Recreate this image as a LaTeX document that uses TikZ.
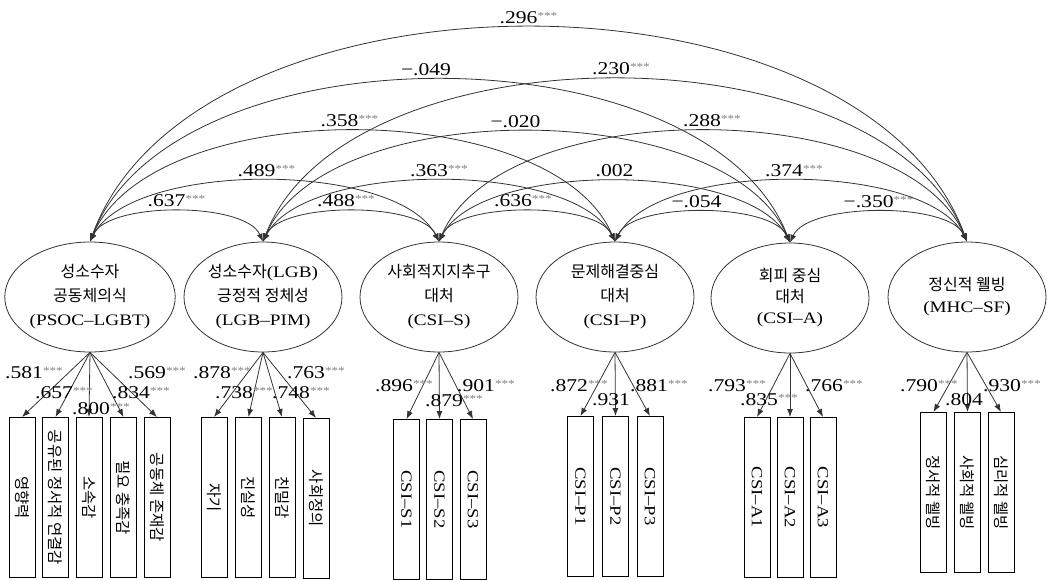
\documentclass[tikz,border=0pt]{standalone}
\usepackage{fontspec}
\setmainfont{Liberation Serif}[FakeStretch=1.2]
\newfontfamily\kr{Noto Sans CJK KR}
\usepackage{graphicx}
\usetikzlibrary{shapes.geometric,arrows.meta}
\definecolor{ln}{gray}{0.2}
\newcommand\sg{\raisebox{4pt}{\color{black!50}\fontsize{11}{11}\selectfont ***}}
\newcommand\K[1]{{\kr #1}}
\newcommand\R[1]{\rotatebox{-90}{#1}}
\begin{document}
\begin{tikzpicture}[x=1pt,y=-1pt,
  lat/.style={ellipse, draw=ln, line width=0.8pt, minimum width=158pt, minimum height=110pt,
    inner sep=0pt, align=center, font=\fontsize{16}{24}\selectfont},
  ind/.style={draw=black, line width=0.9pt, minimum width=26pt, minimum height=160pt,
    inner sep=0pt, anchor=north, font=\fontsize{15.5}{16}\selectfont},
  cov/.style={draw=ln, line width=0.8pt, {Latex[length=8pt,width=6pt]}-{Latex[length=8pt,width=6pt]}},
  ld/.style={draw=ln, line width=0.8pt, -{Latex[length=8pt,width=6pt]}},
  num/.style={font=\fontsize{18}{18}\selectfont, inner sep=0pt},
  cl/.style={num, above=4pt, pos=0.5},
  lb/.style={num, anchor=west},
]
\useasboundingbox (0,0) rectangle (1051,579);

% latent variables
\node[lat] (e1) at (90,297) {\K{성소수자}\\\K{공동체의식}\\(PSOC–LGBT)};
\node[lat] (e2) at (263,297) {\K{성소수자}(LGB)\\\K{긍정적 정체성}\\(LGB–PIM)};
\node[lat] (e3) at (439,297) {\K{사회적지지추구}\\\K{대처}\\(CSI–S)};
\node[lat] (e4) at (615,297) {\K{문제해결중심}\\\K{대처}\\(CSI–P)};
\node[lat, font=\fontsize{16}{21}\selectfont] (e5) at (790,298) {\K{회피 중심}\\\K{대처}\\(CSI–A)};
\node[lat, font=\fontsize{16}{22}\selectfont] (e6) at (967,297) {\K{정신적 웰빙}\\(MHC–SF)};

% indicators
\node[ind] (b11) at (22,417) {\R{\kr 영향력}};
\node[ind] (b12) at (55.5,417) {\R{\kr 공유된 정서적 연결감}};
\node[ind] (b13) at (89,417) {\R{\kr 소속감}};
\node[ind] (b14) at (123.5,417) {\R{\kr 필요 충족감}};
\node[ind] (b15) at (157,417) {\R{\kr 공동체 존재감}};

\node[ind] (b21) at (214,417) {\R{\kr 자기}};
\node[ind] (b22) at (248.5,417) {\R{\kr 진실성}};
\node[ind] (b23) at (282,417) {\R{\kr 친밀감}};
\node[ind] (b24) at (316,418) {\R{\kr 사회정의}};

\node[ind] (b31) at (406.5,419) {\R{CSI–S1}};
\node[ind] (b32) at (439.5,419) {\R{CSI–S2}};
\node[ind] (b33) at (473,419) {\R{CSI–S3}};

\node[ind] (b41) at (580.5,416) {\R{CSI–P1}};
\node[ind] (b42) at (615.5,416) {\R{CSI–P2}};
\node[ind] (b43) at (650,416) {\R{CSI–P3}};

\node[ind] (b51) at (757,417) {\R{CSI–A1}};
\node[ind] (b52) at (790,417) {\R{CSI–A2}};
\node[ind] (b53) at (823,417) {\R{CSI–A3}};

\node[ind] (b61) at (933.5,412) {\R{\kr 정서적 웰빙}};
\node[ind] (b62) at (967.5,412) {\R{\kr 사회적 웰빙}};
\node[ind] (b63) at (1001,412) {\R{\kr 심리적 웰빙}};

% loadings
\foreach \i in {1,...,5} \draw[ld] (e1.south) -- (b1\i.north);
\foreach \i in {1,...,4} \draw[ld] (e2.south) -- (b2\i.north);
\foreach \g in {3,4,5,6} {\foreach \i in {1,2,3} \draw[ld] (e\g.south) -- (b\g\i.north);}

% loading labels
\node[lb] (l11) at (5,373) {.581\sg};
\node[lb] (l12) at (35,393) {.657\sg};
\node[lb] (l13) at (72,409) {.800\sg};
\node[lb] (l14) at (112,393) {.834\sg};
\node[lb] (l15) at (128,373) {.569\sg};
\node[lb] (l21) at (193,373) {.878\sg};
\node[lb] (l22) at (215,393) {.738\sg};
\node[lb] (l23) at (272,393) {.748\sg};
\node[lb] (l24) at (287,373) {.763\sg};
\node[lb] (l31) at (375,386) {.896\sg};
\node[lb] (l32) at (425,401) {.879\sg};
\node[lb] (l33) at (457,386) {.901\sg};
\node[lb] (l41) at (550,386) {.872\sg};
\node[lb] (l42) at (592,400) {.931};
\node[lb] (l43) at (630,386) {.881\sg};
\node[lb] (l51) at (708,386) {.793\sg};
\node[lb] (l52) at (740,400) {.835\sg};
\node[lb] (l53) at (805,386) {.766\sg};
\node[lb] (l61) at (900,386) {.790\sg};
\node[lb] (l62) at (945,400) {.804};
\node[lb] (l63) at (983,386) {.930\sg};

% correlations
\draw[cov] (e1.north) .. controls +(18,-40) and +(-18,-40) .. node[cl] (c12) {.637\sg} (e2.north);
\draw[cov] (e2.north) .. controls +(18,-40) and +(-18,-40) .. node[cl, xshift=-5pt] (c23) {.488\sg} (e3.north);
\draw[cov] (e3.north) .. controls +(18,-40) and +(-18,-40) .. node[cl, xshift=-4pt] (c34) {.636\sg} (e4.north);
\draw[cov] (e4.north) .. controls +(18,-40) and +(-18,-40) .. node[cl, xshift=-6pt] (c45) {−.054} (e5.north);
\draw[cov] (e5.north) .. controls +(18,-40) and +(-18,-40) .. node[cl] (c56) {−.350\sg} (e6.north);

\draw[cov] (e1.north) .. controls +(42,-81) and +(-42,-81) .. node[cl, xshift=2pt] (c13) {.489\sg} (e3.north);
\draw[cov] (e2.north) .. controls +(42,-81) and +(-42,-81) .. node[cl] (c24) {.363\sg} (e4.north);
\draw[cov] (e3.north) .. controls +(42,-81) and +(-42,-81) .. node[cl] (c35) {.002} (e5.north);
\draw[cov] (e4.north) .. controls +(42,-81) and +(-42,-81) .. node[cl, xshift=3pt] (c46) {.374\sg} (e6.north);

\draw[cov] (e1.north) .. controls +(63,-147) and +(-63,-147) .. node[cl, xshift=-3pt] (c14) {.358\sg} (e4.north);
\draw[cov] (e2.north) .. controls +(63,-147) and +(-63,-147) .. node[cl, xshift=-11pt] (c25) {−.020} (e5.north);
\draw[cov] (e3.north) .. controls +(63,-147) and +(-63,-147) .. node[cl, xshift=9pt] (c36) {.288\sg} (e6.north);

\draw[cov] (e1.north) .. controls +(84,-216) and +(-84,-216) .. node[cl, xshift=-14pt] (c15) {−.049} (e5.north);
\draw[cov] (e2.north) .. controls +(84,-216) and +(-84,-216) .. node[cl, xshift=6pt] (c26) {.230\sg} (e6.north);

\draw[cov] (e1.north) .. controls +(105,-285) and +(-105,-285) .. node[cl] (c16) {.296\sg} (e6.north);
\end{tikzpicture}
\end{document}
